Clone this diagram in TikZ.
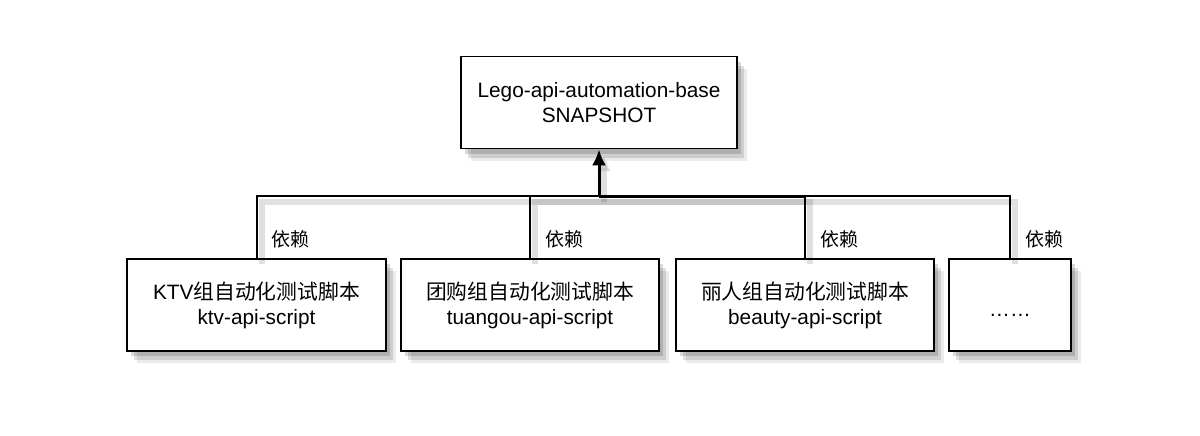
\documentclass[tikz,border=0pt]{standalone}
\usepackage{fontspec}
\setmainfont{Liberation Sans}
\newfontfamily\cjk{Noto Sans CJK SC}
\usetikzlibrary{arrows.meta,shadows}

\tikzset{
  box/.style={draw=black, line width=0.8pt, fill=white, rectangle, align=center,
    inner sep=0pt, minimum height=46pt, font=\fontsize{10.4}{12.5}\selectfont,
    drop shadow={shadow xshift=5pt, shadow yshift=-6pt, opacity=0.08, fill=black},
    drop shadow={shadow xshift=3.5pt, shadow yshift=-4.5pt, opacity=0.12, fill=black},
    drop shadow={shadow xshift=2pt, shadow yshift=-2.5pt, opacity=0.15, fill=black}},
  link/.style={draw=black, line width=1pt,
    preaction={draw=black, opacity=0.12, line width=3pt, transform canvas={shift={(2.5pt,-3pt)}}}},
  dep/.style={right, xshift=7pt, inner sep=0pt, font=\cjk\fontsize{9.5}{11}\selectfont}
}

\begin{document}
\begin{tikzpicture}[x=0.5pt, y=-0.5pt]

% frame
\useasboundingbox (0,0) rectangle (1200,435);

% boxes
\node[box, minimum width=138pt] (base) at (599,102.5) {Lego-api-automation-base\\SNAPSHOT};
\node[box, minimum width=129.5pt] (ktv) at (256.5,305) {KTV{\cjk 组自动化测试脚本}\\ktv-api-script};
\node[box, minimum width=129pt] (tuangou) at (530,305) {{\cjk 团购组自动化测试脚本}\\tuangou-api-script};
\node[box, minimum width=129pt] (beauty) at (805,305) {{\cjk 丽人组自动化测试脚本}\\beauty-api-script};
\node[box, minimum width=61pt] (more) at (1010,305) {\raisebox{-11pt}{……}};

% bus
\coordinate (hub) at (599,196);
\draw[link] (ktv.north) |- node[dep, pos=0.15] {依赖} (hub);
\draw[link] (tuangou.north) |- node[dep, pos=0.15] {依赖} (hub);
\draw[link] (beauty.north) |- node[dep, pos=0.15] {依赖} (hub);
\draw[link] (more.north) |- node[dep, pos=0.15] {依赖} (hub);
\draw[line width=1.5pt] (hub) -- (beauty.north |- hub);

% arrow
\draw[link, line width=1.5pt, -{Latex[length=8pt, width=7pt]}] (hub) -- (base.south);

\end{tikzpicture}
\end{document}
